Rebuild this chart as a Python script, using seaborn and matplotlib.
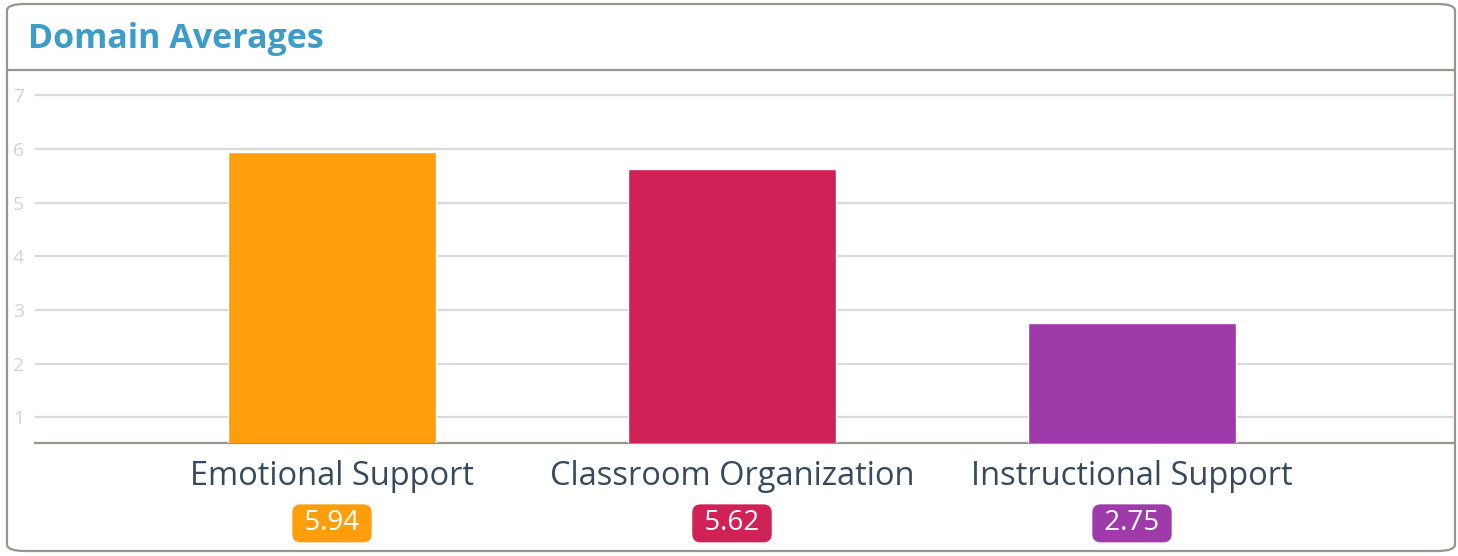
import matplotlib
matplotlib.use('Agg')
import matplotlib.pyplot as plt
import seaborn as sns
import pandas as pd
from matplotlib.patches import FancyBboxPatch
from matplotlib.lines import Line2D
from matplotlib.transforms import blended_transform_factory

# data
domains = ['Emotional Support', 'Classroom Organization', 'Instructional Support']
averages = [5.94, 5.62, 2.75]
bar_colors = ['#ff9e0d', '#d12257', '#9f3aab']
y_ticks = [1, 2, 3, 4, 5, 6, 7]
title = 'Domain Averages'

border_gray = '#9a948e'
grid_gray = '#dadada'
label_dark = '#354a5f'

sns.set_theme(style='white')
plt.rcParams['font.family'] = ['Open Sans', 'DejaVu Sans']

fig = plt.figure(figsize=(14.58, 5.56), dpi=100)
W, H = 1458, 556

# outer card border
card = FancyBboxPatch((7 / W, 5 / H), 1448 / W, 547 / H,
                      boxstyle='round,pad=0,rounding_size=0.012',
                      transform=fig.transFigure, facecolor='white',
                      edgecolor=border_gray, linewidth=1.6, zorder=-1)
fig.patches.append(card)
fig.lines.append(Line2D([7 / W, 1455 / W], [1 - 70 / H, 1 - 70 / H],
                        transform=fig.transFigure, color=border_gray, linewidth=1.6))
fig.text(28 / W, 1 - 39 / H, title, color='#3d9dc8', fontsize=24.5,
         fontweight='bold', va='center', ha='left')

ax = fig.add_axes([35 / W, 1 - 443 / H, (1454 - 35) / W, (443 - 71) / H])
ax.set_facecolor('none')

df = pd.DataFrame({'Domain': domains, 'Average': averages})
sns.barplot(data=df, x='Domain', y='Average', hue='Domain', palette=bar_colors,
            width=0.52, saturation=1, legend=False, ax=ax, zorder=3)

ax.set_xlim(-0.7425, 2.805)
ax.set_ylim(0.52, 7.45)
ax.set_yticks(y_ticks)
ax.yaxis.grid(True, color=grid_gray, linewidth=1.6, zorder=0)
ax.set_axisbelow(True)
ax.tick_params(axis='y', length=0, pad=8, labelsize=14, labelcolor='#d3d3d3')
ax.tick_params(axis='x', length=0, pad=12.5, labelsize=23.5, labelcolor=label_dark)
ax.set_xlabel('')
ax.set_ylabel('')
for side in ['top', 'right', 'left']:
    ax.spines[side].set_visible(False)
ax.spines['bottom'].set_color(border_gray)
ax.spines['bottom'].set_linewidth(1.6)

# value badges under category names
trans = blended_transform_factory(ax.transData, ax.transAxes)
for i, (val, col) in enumerate(zip(averages, bar_colors)):
    ax.text(i, -0.216, f' {val:.2f} ', transform=trans, ha='center', va='center',
            color='white', fontsize=20,
            bbox=dict(boxstyle='round,pad=0.18,rounding_size=0.3', facecolor=col,
                      edgecolor='none'))

fig.savefig('out.png', dpi=100)
